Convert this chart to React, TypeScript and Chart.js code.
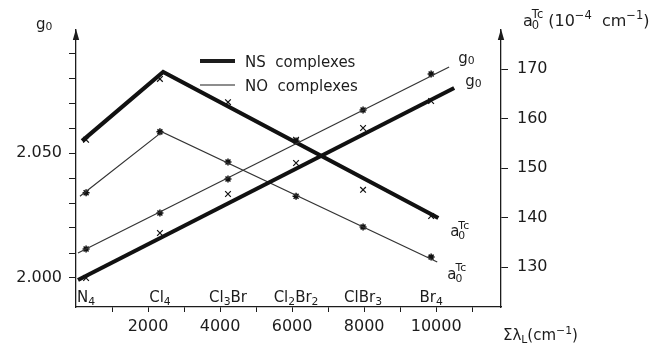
import { useEffect, useRef } from 'react';
import { Chart, registerables } from 'chart.js';

Chart.register(...registerables);

const FONT = '"DejaVu Sans", sans-serif';
const INK = '#1c1c1c';

// complexes (categories) and their Σλ_L positions (cm^-1)
const complexNames = ['N4', 'Cl4', 'Cl3Br', 'Cl2Br2', 'ClBr3', 'Br4'];
const sumLambda = [280, 2330, 4220, 6110, 7970, 9860];

// measured points
const nsG0 = [2.0, 2.018, 2.0336, 2.046, 2.06, 2.0708];
const noG0 = [2.0116, 2.026, 2.0396, 2.0548, 2.0672, 2.0816];
const nsA0 = [155.7, 168.0, 163.3, 155.7, 145.6, 140.3];
const noA0 = [145.0, 157.3, 151.2, 144.3, 138.1, 132.0];

// drawn trend lines
const nsG0LineX = [55, 10500];
const nsG0LineY = [1.9992, 2.076];
const noG0LineX = [55, 10360];
const noG0LineY = [2.01, 2.0844];
const nsA0LineX = [170, 2420, 10060];
const nsA0LineY = [155.5, 169.4, 139.9];
const noA0LineX = [110, 2390, 10030];
const noA0LineY = [144.3, 157.3, 131.0];

// ticks
const gTicks = [2.0, 2.01, 2.02, 2.03, 2.04, 2.05, 2.06, 2.07, 2.08, 2.09];
const gLabeled = [2.0, 2.05];
const aTicks = [130, 140, 150, 160, 170];
const xTicks = [1000, 2000, 3000, 4000, 5000, 6000, 7000, 8000, 9000, 10000, 11000];
const xLabeled = [2000, 4000, 6000, 8000, 10000];

// legend
const legendNames = ['NS  complexes', 'NO  complexes'];

// series end labels [x, y] in data units
const nsG0LabelPos = [10806, 2.0768];
const noG0LabelPos = [10611, 2.086];
const nsA0LabelPos = [10389, 136.2];
const noA0LabelPos = [10306, 127.6];

type Seg = { t?: string; k?: 'sub' | 'sup'; dy?: number; sup?: string; sub?: string; kern?: number };

function font(size: number) {
  return `${size}px ${FONT}`;
}

function drawRich(ctx: CanvasRenderingContext2D, x: number, y: number, segs: Seg[], size: number, align: 'left' | 'center' = 'left') {
  const small = size * 0.72;
  const widths = segs.map((s) => {
    if (s.sup !== undefined || s.sub !== undefined) {
      ctx.font = font(small);
      return Math.max(ctx.measureText(s.sup || '').width, ctx.measureText(s.sub || '').width) + (s.kern || 0);
    }
    ctx.font = font(s.k ? small : size);
    return ctx.measureText(s.t || '').width + (s.kern || 0);
  });
  const total = widths.reduce((p, c) => p + c, 0);
  let cx = align === 'center' ? x - total / 2 : x;
  ctx.textAlign = 'left';
  ctx.textBaseline = 'alphabetic';
  segs.forEach((s, i) => {
    if (s.sup !== undefined || s.sub !== undefined) {
      ctx.font = font(small);
      ctx.fillText(s.sup || '', cx, y - size * 0.52);
      ctx.fillText(s.sub || '', cx, y + size * 0.18);
    } else if (s.k === 'sub') {
      ctx.font = font(small);
      ctx.fillText(s.t || '', cx, y + (s.dy ?? size * 0.22));
    } else if (s.k === 'sup') {
      ctx.font = font(small);
      ctx.fillText(s.t || '', cx, y + (s.dy ?? -size * 0.42));
    } else {
      ctx.font = font(size);
      ctx.fillText(s.t || '', cx, y);
    }
    cx += widths[i];
  });
}

function formula(name: string): Seg[] {
  const parts = name.match(/[A-Za-z]+|\d+/g) || [];
  return parts.map((p) => (/\d/.test(p) ? { t: p, k: 'sub' as const } : { t: p }));
}

const g0Segs: Seg[] = [{ t: 'g' }, { t: '0', k: 'sub', dy: 1 }];
const a0Segs: Seg[] = [{ t: 'a', kern: -1 }, { sup: 'Tc', sub: '0' }];

const overlay = {
  id: 'overlay',
  afterDraw(chart: any) {
    const { ctx, chartArea: a, scales } = chart;
    const x = scales.x;
    const yL = scales.yL;
    const yR = scales.yR;
    ctx.save();
    ctx.fillStyle = INK;
    ctx.strokeStyle = INK;

    // axis arrows
    [a.left, a.right].forEach((ax: number) => {
      ctx.beginPath();
      ctx.moveTo(ax, a.top - 1);
      ctx.lineTo(ax - 3.2, a.top + 10);
      ctx.lineTo(ax + 3.2, a.top + 10);
      ctx.closePath();
      ctx.fill();
    });

    // complex labels
    complexNames.forEach((n, i) => {
      drawRich(ctx, x.getPixelForValue(sumLambda[i]), a.bottom - 5, formula(n), 15, 'center');
    });

    // legend
    const lx = a.left + 124;
    const ly = [a.top + 31, a.top + 55];
    const lw = [4.2, 1.2];
    legendNames.forEach((name, i) => {
      ctx.lineWidth = lw[i];
      ctx.beginPath();
      ctx.moveTo(lx, ly[i]);
      ctx.lineTo(lx + 35, ly[i]);
      ctx.stroke();
      drawRich(ctx, lx + 45, ly[i] + 6, [{ t: name }], 15);
    });

    // series labels
    drawRich(ctx, x.getPixelForValue(nsG0LabelPos[0]), yL.getPixelForValue(nsG0LabelPos[1]), g0Segs, 15);
    drawRich(ctx, x.getPixelForValue(noG0LabelPos[0]), yL.getPixelForValue(noG0LabelPos[1]), g0Segs, 15);
    drawRich(ctx, x.getPixelForValue(nsA0LabelPos[0]), yR.getPixelForValue(nsA0LabelPos[1]), a0Segs, 15);
    drawRich(ctx, x.getPixelForValue(noA0LabelPos[0]), yR.getPixelForValue(noA0LabelPos[1]), a0Segs, 15);

    // axis titles
    drawRich(ctx, a.left - 40, a.top - 1, g0Segs, 15);
    drawRich(
      ctx,
      a.right + 22,
      a.top - 4,
      [{ t: 'a', kern: -1 }, { sup: 'Tc', sub: '0', kern: 5 }, { t: '(10' }, { t: '−4', k: 'sup' }, { t: '  cm' }, { t: '−1', k: 'sup' }, { t: ')' }],
      16
    );
    drawRich(ctx, a.right + 2, a.bottom + 33, [{ t: 'Σλ' }, { t: 'L', k: 'sub' }, { t: '(cm' }, { t: '−1', k: 'sup' }, { t: ')' }], 15);

    ctx.restore();
  },
};

const toPts = (xs: number[], ys: number[]) => xs.map((v, i) => ({ x: v, y: ys[i] }));

export default function App() {
  const ref = useRef<HTMLCanvasElement | null>(null);

  useEffect(() => {
    document.body.style.margin = '0';
    if (!ref.current) return;
    const lineBase = { showLine: true, pointRadius: 0, borderColor: '#111', borderJoinStyle: 'miter' as const, clip: false as any };
    const markBase = { showLine: false, borderColor: '#111', backgroundColor: '#111', clip: false as any };
    const tickFont = { family: FONT, size: 16 };
    const chart = new Chart(ref.current, {
      type: 'scatter',
      data: {
        datasets: [
          { ...lineBase, data: toPts(nsG0LineX, nsG0LineY), yAxisID: 'yL', borderWidth: 4.2 },
          { ...lineBase, data: toPts(noG0LineX, noG0LineY), yAxisID: 'yL', borderWidth: 1.2, borderColor: '#333' },
          { ...lineBase, data: toPts(nsA0LineX, nsA0LineY), yAxisID: 'yR', borderWidth: 4.2 },
          { ...lineBase, data: toPts(noA0LineX, noA0LineY), yAxisID: 'yR', borderWidth: 1.2, borderColor: '#333' },
          { ...markBase, data: toPts(sumLambda, nsG0), yAxisID: 'yL', pointStyle: 'crossRot', pointRadius: 4, borderWidth: 1.2 },
          { ...markBase, data: toPts(sumLambda, noG0), yAxisID: 'yL', pointStyle: 'star', pointRadius: 3.5, borderWidth: 1.5 },
          { ...markBase, data: toPts(sumLambda, nsA0), yAxisID: 'yR', pointStyle: 'crossRot', pointRadius: 4, borderWidth: 1.2 },
          { ...markBase, data: toPts(sumLambda, noA0), yAxisID: 'yR', pointStyle: 'star', pointRadius: 3.5, borderWidth: 1.5 },
        ],
      },
      options: {
        animation: false,
        responsive: false,
        events: [],
        layout: { padding: { top: 30, left: 0, right: 0, bottom: 0 } },
        plugins: { legend: { display: false }, tooltip: { enabled: false } },
        scales: {
          x: {
            type: 'linear',
            position: 'bottom',
            min: 0,
            max: 11800,
            afterBuildTicks: (s: any) => {
              s.ticks = xTicks.map((v) => ({ value: v }));
            },
            afterFit: (s: any) => {
              s.height = 45;
            },
            grid: { drawOnChartArea: false, drawTicks: true, tickLength: 5, color: INK, lineWidth: 1 },
            border: { display: true, color: INK, width: 1.3 },
            ticks: {
              autoSkip: false,
              maxRotation: 0,
              padding: 5,
              color: INK,
              font: tickFont,
              callback: (v: any) => (xLabeled.includes(Number(v)) ? String(v) : ''),
            },
          },
          yL: {
            type: 'linear',
            position: 'left',
            min: 1.9884,
            max: 2.0992,
            afterBuildTicks: (s: any) => {
              s.ticks = gTicks.map((v) => ({ value: v }));
            },
            afterFit: (s: any) => {
              s.width = 76;
            },
            grid: { drawOnChartArea: false, drawTicks: true, tickLength: 7, color: INK, lineWidth: 1 },
            border: { display: true, color: INK, width: 1.3 },
            ticks: {
              padding: 7,
              color: INK,
              font: tickFont,
              callback: (v: any) => (gLabeled.some((g) => Math.abs(g - Number(v)) < 1e-6) ? Number(v).toFixed(3) : ''),
            },
          },
          yR: {
            type: 'linear',
            position: 'right',
            min: 121.92,
            max: 177.88,
            afterBuildTicks: (s: any) => {
              s.ticks = aTicks.map((v) => ({ value: v }));
            },
            afterFit: (s: any) => {
              s.width = 153;
            },
            grid: { drawOnChartArea: false, drawTicks: true, tickLength: 7, color: INK, lineWidth: 1 },
            border: { display: true, color: INK, width: 1.3 },
            ticks: { padding: 9, color: INK, font: tickFont, callback: (v: any) => String(v) },
          },
        },
      },
      plugins: [overlay],
    } as any);
    return () => chart.destroy();
  }, []);

  return (
    <div style={{ width: 654, height: 352, background: '#fff' }}>
      <canvas ref={ref} width={654} height={352} style={{ display: 'block' }} />
    </div>
  );
}
